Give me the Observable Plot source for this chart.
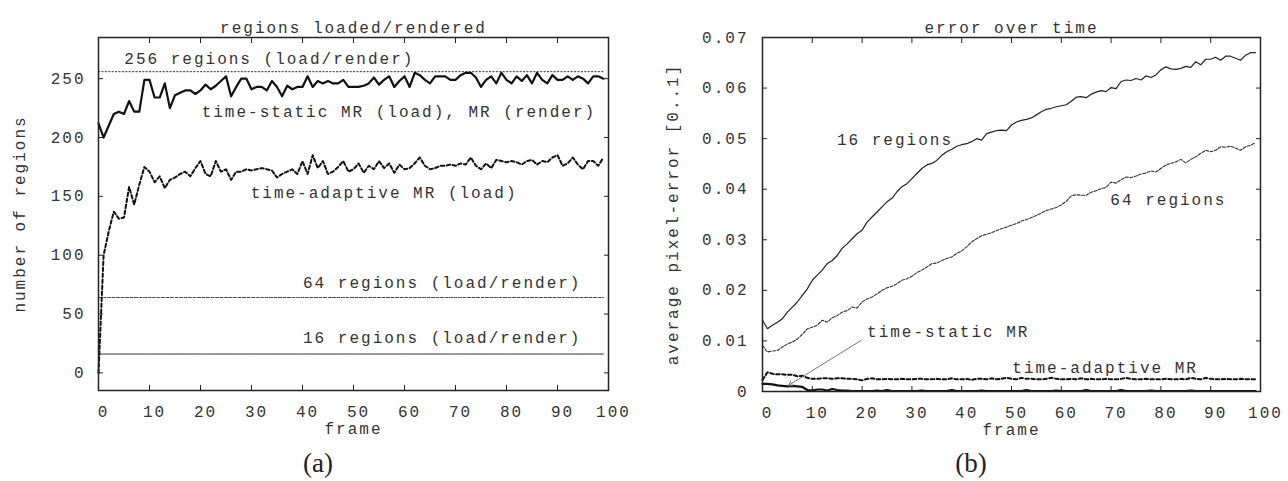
<!DOCTYPE html>
<html>
<head>
<meta charset="utf-8">
<script src="https://cdn.jsdelivr.net/npm/d3@7"></script>
<script src="https://cdn.jsdelivr.net/npm/@observablehq/plot@0.6"></script>
<style>
  html, body { margin: 0; padding: 0; background: white; }
  #wrap { position: relative; width: 1288px; height: 481px; overflow: hidden; }
  #left { position: absolute; left: 0; top: 0; }
  #right { position: absolute; left: 640px; top: 0; }
  .cap { position: absolute; top: 447px; width: 80px; text-align: center; font-family: "Liberation Serif", serif; font-size: 27px; line-height: 32px; color: #222; }
</style>
</head>
<body>
<div id="wrap">
  <div id="left"></div>
  <div id="right"></div>
  <div class="cap" style="left:278px">(a)</div>
  <div class="cap" style="left:931px">(b)</div>
</div>
<script>
// ---------- data ----------
const frames = d3.range(100);
const frameTicks = [0, 10, 20, 30, 40, 50, 60, 70, 80, 90, 100];
const regionTicks = [0, 50, 100, 150, 200, 250];
const errorTicks = [0, 0.01, 0.02, 0.03, 0.04, 0.05, 0.06, 0.07];

// (a) regions loaded/rendered
const fixedLevels = [256, 64, 16];
const staticLoad = [
  212,200,210,220,222,220,231,222,222,249,
  249,234,234,246,225,236,238,240,240,237,
  240,245,241,244,248,252,235,243,250,250,
  241,243,243,240,248,243,235,244,241,243,
  243,252,243,248,246,248,246,246,249,243,
  243,243,244,246,251,245,249,252,243,248,
  252,243,255,253,249,246,252,252,252,249,
  249,253,255,255,251,243,249,252,246,255,
  249,246,252,248,253,246,255,249,246,253,
  249,249,252,249,252,250,246,252,252,250];
const adaptiveLoad = [
  0,100,120,137,131,132,158,143,160,175,
  171,162,167,157,164,166,169,171,167,174,
  180,169,167,180,171,173,164,171,171,173,
  172,173,174,173,172,166,169,171,173,169,
  180,169,185,174,180,169,171,175,180,171,
  173,178,170,176,173,180,174,178,170,177,
  173,174,178,183,176,173,174,176,176,177,
  176,178,177,183,176,173,178,174,181,180,
  179,180,179,177,180,181,177,180,179,183,
  185,176,178,183,177,173,180,180,176,183];
const leftLabelText = ["256 regions (load/render)", "time-static MR (load), MR (render)", "time-adaptive MR (load)", "64 regions (load/render)", "16 regions (load/render)"];
const leftLabelFrame = [33.5, 58.9, 56, 67.4, 67.4];
const leftLabelValue = [267, 222, 153, 76.5, 30];

// (b) error over time
const err16 = [
  .0141,.0124,.0131,.0137,.0144,.0157,.0167,.0177,.0190,.0203,
  .0220,.0230,.0240,.0253,.0259,.0269,.0283,.0292,.0302,.0312,
  .0319,.0335,.0345,.0355,.0365,.0375,.0382,.0395,.0405,.0411,
  .0421,.0431,.0441,.0448,.0451,.0457,.0467,.0474,.0479,.0485,
  .0488,.0490,.0494,.0500,.0497,.0510,.0513,.0516,.0517,.0516,
  .0527,.0533,.0536,.0538,.0541,.0547,.0553,.0558,.0560,.0563,
  .0565,.0567,.0574,.0582,.0583,.0581,.0588,.0592,.0595,.0593,
  .0601,.0599,.0613,.0616,.0615,.0619,.0616,.0624,.0621,.0626,
  .0636,.0642,.0638,.0637,.0639,.0643,.0641,.0652,.0646,.0657,
  .0657,.0661,.0655,.0663,.0663,.0659,.0655,.0665,.0670,.0670];
const err64 = [
  .0091,.0078,.0080,.0081,.0088,.0094,.0098,.0104,.0113,.0124,
  .0127,.0131,.0141,.0137,.0146,.0150,.0157,.0160,.0167,.0165,
  .0177,.0183,.0187,.0193,.0200,.0205,.0208,.0213,.0220,.0223,
  .0228,.0235,.0240,.0246,.0253,.0254,.0259,.0263,.0266,.0273,
  .0278,.0286,.0296,.0302,.0308,.0311,.0314,.0318,.0322,.0325,
  .0329,.0332,.0337,.0340,.0344,.0348,.0353,.0358,.0361,.0364,
  .0369,.0376,.0387,.0389,.0388,.0388,.0394,.0397,.0401,.0404,
  .0414,.0412,.0419,.0424,.0423,.0426,.0430,.0432,.0436,.0434,
  .0441,.0448,.0451,.0454,.0459,.0452,.0459,.0464,.0471,.0477,
  .0474,.0477,.0484,.0483,.0485,.0481,.0477,.0484,.0487,.0492];
const errStatic = [
  .0015,.0015,.0014,.0012,.0011,.0010,.0011,.0010,.0009,.0003,
  .0002,.0004,.0004,.0002,.0005,.0003,.0002,.0002,.0001,.0001,
  .0001,.0001,.0001,.0002,.0001,.0003,.0001,.0001,.0001,.0001,
  .0001,.0001,.0002,.0001,.0001,.0001,.0001,.0001,.0003,.0001,
  .0001,.0001,.0001,.0001,.0002,.0001,.0001,.0001,.0001,.0001,
  .0001,.0001,.0001,.0003,.0001,.0001,.0001,.0001,.0001,.0002,
  .0001,.0001,.0001,.0001,.0001,.0003,.0001,.0001,.0001,.0001,
  .0001,.0001,.0003,.0001,.0001,.0001,.0001,.0001,.0002,.0001,
  .0001,.0001,.0001,.0001,.0001,.0001,.0002,.0001,.0001,.0001,
  .0001,.0001,.0001,.0001,.0001,.0001,.0001,.0001,.0001,.0001];
const errAdaptive = [
  .0023,.0038,.0035,.0034,.0034,.0033,.0033,.0030,.0031,.0027,
  .0025,.0025,.0026,.0026,.0025,.0026,.0026,.0025,.0025,.0024,
  .0022,.0025,.0026,.0024,.0024,.0025,.0024,.0024,.0025,.0024,
  .0024,.0025,.0025,.0024,.0024,.0025,.0024,.0024,.0026,.0024,
  .0024,.0025,.0023,.0025,.0025,.0024,.0026,.0024,.0025,.0027,
  .0025,.0024,.0027,.0025,.0025,.0024,.0024,.0025,.0027,.0025,
  .0024,.0024,.0025,.0024,.0026,.0024,.0025,.0024,.0024,.0025,
  .0024,.0024,.0025,.0027,.0025,.0024,.0024,.0025,.0024,.0024,
  .0024,.0025,.0024,.0024,.0025,.0024,.0027,.0025,.0024,.0027,
  .0025,.0024,.0024,.0025,.0024,.0024,.0025,.0024,.0024,.0024];
const rightLabelText = ["16 regions", "64 regions", "time-static MR", "time-adaptive MR"];
const rightLabelFrame = [26.6, 81.5, 37.3, 68.8];
const rightLabelValue = [0.0497, 0.0378, 0.0117, 0.0046];
const arrowFrom = {f: 19.8, v: 0.0101};
const arrowTo = {f: 5.2, v: 0.0012};

// ---------- helpers ----------
const series = (vals) => frames.map((f, i) => ({f, v: vals[i]}));
const constant = (level) => frames.map(f => ({f, v: level}));
const labels = (t, f, v) => t.map((s, i) => ({text: s, f: f[i], v: v[i]}));

const font = {fontFamily: "'Liberation Mono', 'DejaVu Sans Mono', monospace", fontSize: "16px", letterSpacing: "2px", color: "#333", background: "white", overflow: "visible"};
const frameStroke = "#222";
const thickDash = "3.5,2.5";

function frameAxes(xTicks, yTicks, yPad, yFmt) {
  const blank = () => "";
  return [
    Plot.frame({stroke: frameStroke, strokeWidth: 1.5}),
    Plot.axisX(xTicks, {anchor: "bottom", tickSize: 5, dy: -5, tickFormat: blank, label: null, stroke: frameStroke}),
    Plot.axisX(xTicks, {anchor: "top", tickSize: 5, dy: 5, tickFormat: blank, label: null, stroke: frameStroke}),
    Plot.axisX(xTicks, {anchor: "bottom", tickSize: 0, tickPadding: 15, dx: 5, label: null, fill: "#333"}),
    Plot.axisY(yTicks, {anchor: "left", tickSize: 5, dx: 5, tickFormat: blank, label: null, stroke: frameStroke}),
    Plot.axisY(yTicks, {anchor: "right", tickSize: 5, dx: -5, tickFormat: blank, label: null, stroke: frameStroke}),
    Plot.axisY(yTicks, {anchor: "left", tickSize: 0, tickPadding: yPad, label: null, fill: "#333", tickFormat: yFmt})
  ];
}

// ---------- (a) ----------
const left = Plot.plot({
  width: 640, height: 450,
  marginLeft: 98, marginRight: 32, marginTop: 37, marginBottom: 60,
  style: font,
  x: {domain: [0, 100]},
  y: {domain: [-15, 285]},
  marks: [
    Plot.lineY(constant(fixedLevels[0]), {x: "f", y: "v", stroke: "#555", strokeWidth: 1.2, strokeDasharray: "1.2,2.2"}),
    Plot.lineY(constant(fixedLevels[1]), {x: "f", y: "v", stroke: "#444", strokeWidth: 1, strokeDasharray: "3,1.5"}),
    Plot.lineY(constant(fixedLevels[2]), {x: "f", y: "v", stroke: "#333", strokeWidth: 1}),
    Plot.lineY(series(adaptiveLoad), {x: "f", y: "v", stroke: "#111", strokeWidth: 2, strokeDasharray: thickDash}),
    Plot.lineY(series(staticLoad), {x: "f", y: "v", stroke: "#111", strokeWidth: 2.2}),
    ...frameAxes(frameTicks, regionTicks, 13, d3.format("d")),
    Plot.text(labels(leftLabelText, leftLabelFrame, leftLabelValue), {x: "f", y: "v", text: "text", fill: "#333"}),
    Plot.text(["regions loaded/rendered"], {frameAnchor: "top", dy: -16, fill: "#333"}),
    Plot.text(["frame"], {frameAnchor: "bottom", dy: 43, fill: "#333"}),
    Plot.text(["number of regions"], {frameAnchor: "left", textAnchor: "middle", dx: -79, rotate: -90, fill: "#333"})
  ]
});
document.getElementById("left").append(left);

// ---------- (b) ----------
const right = Plot.plot({
  width: 648, height: 450,
  marginLeft: 122, marginRight: 28, marginTop: 37, marginBottom: 59,
  style: font,
  x: {domain: [0, 100]},
  y: {domain: [0, 0.07]},
  marks: [
    Plot.lineY(series(err64), {x: "f", y: "v", stroke: "#333", strokeWidth: 1.1, strokeDasharray: "3,1.5"}),
    Plot.lineY(series(err16), {x: "f", y: "v", stroke: "#222", strokeWidth: 1.2}),
    Plot.lineY(series(errAdaptive), {x: "f", y: "v", stroke: "#111", strokeWidth: 2, strokeDasharray: thickDash}),
    Plot.lineY(series(errStatic), {x: "f", y: "v", stroke: "#111", strokeWidth: 2.2}),
    Plot.arrow([{a: arrowFrom, b: arrowTo}], {x1: d => d.a.f, y1: d => d.a.v, x2: d => d.b.f, y2: d => d.b.v, stroke: "#777", strokeWidth: 1, headLength: 7}),
    ...frameAxes(frameTicks, errorTicks, 14, d => d === 0 ? "0" : d3.format(".2f")(d)),
    Plot.text(labels(rightLabelText, rightLabelFrame, rightLabelValue), {x: "f", y: "v", text: "text", fill: "#333"}),
    Plot.text(["error over time"], {frameAnchor: "top", dy: -16, fill: "#333"}),
    Plot.text(["frame"], {frameAnchor: "bottom", dy: 43, fill: "#333"}),
    Plot.text(["average pixel-error [0..1]"], {frameAnchor: "left", textAnchor: "middle", dx: -90, rotate: -90, fill: "#333"})
  ]
});
document.getElementById("right").append(right);
</script>
</body>
</html>
